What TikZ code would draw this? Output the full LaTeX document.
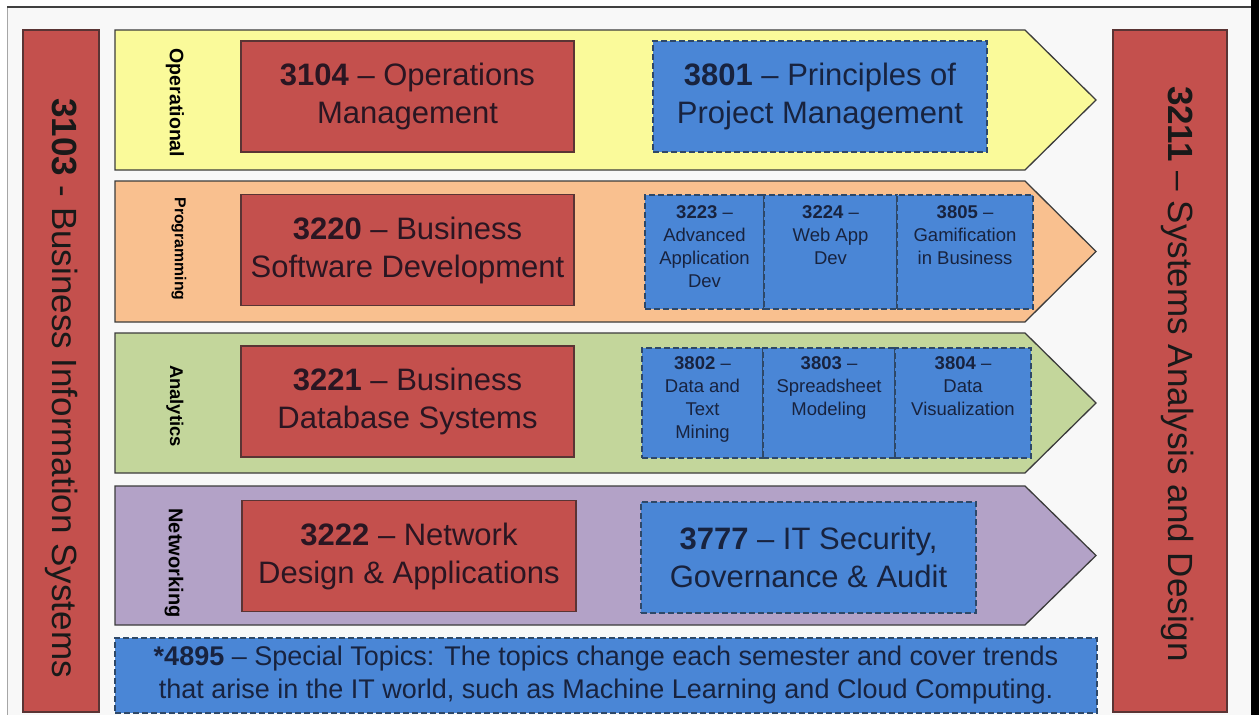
\documentclass[tikz,border=0pt]{standalone}
\usepackage{fontspec}
\setmainfont{Liberation Sans}
\definecolor{redc}{HTML}{C4504D}
\definecolor{reddark}{HTML}{5A3434}
\definecolor{redtext}{HTML}{2A1622}
\definecolor{bluec}{HTML}{4A86D6}
\definecolor{bluedark}{HTML}{2E4868}
\definecolor{bluetext}{HTML}{18233F}
\definecolor{yel}{HTML}{FAFA9A}
\definecolor{ora}{HTML}{F9C08F}
\definecolor{gre}{HTML}{C3D69B}
\definecolor{pur}{HTML}{B3A2C7}
\definecolor{arrline}{HTML}{3C3C3C}
\definecolor{bg}{HTML}{F8F8F8}
\tikzset{
  rowarrow/.style={draw=arrline, line width=1.3pt, line join=miter},
  redbox/.style={rectangle, fill=redc, draw=reddark, line width=1.3pt, inner sep=0pt,
     text=redtext, align=center},
  bluebox/.style={rectangle, fill=bluec, draw=bluedark, line width=1.3pt, inner sep=0pt,
     dash pattern=on 6pt off 3pt, text=bluetext, align=center},
  bigtxt/.style={font=\fontsize{31}{38}\selectfont},
  smalltxt/.style={font=\fontsize{18.5}{23}\selectfont, text=bluetext, align=center, inner sep=0pt, anchor=north},
  rowlabel/.style={rotate=-90, inner sep=0pt, text=black},
  sidebar/.style={rectangle, fill=redc, draw=reddark, line width=1.3pt, inner sep=0pt},
  sidetxt/.style={rotate=-90, inner sep=0pt, text=black!90, font=\fontsize{35}{40}\selectfont}
}
\begin{document}
\begin{tikzpicture}[x=1pt,y=-1pt]
\useasboundingbox (0,0) rectangle (1259,715);
% frame
\fill[white] (0,0) rectangle (1259,715);
\fill[bg] (7,7) rectangle (1251,715);
\draw[gray!70, line width=1pt] (7,715) -- (7,7);
\draw[black!75, line width=1.2pt] (7,7) -- (1251,7);
\fill[black] (1251,0) rectangle (1259,715);

% side bars
\node[sidebar, minimum width=76pt, minimum height=682pt] (leftbar) at (61,371) {};
\node[sidetxt] (lefttxt) at (62,388) {\textbf{3103} - Business Information Systems};
\node[sidebar, minimum width=114pt, minimum height=682pt] (rightbar) at (1170,371) {};
\node[sidetxt] (righttxt) at (1178,374) {\textbf{3211} -- Systems Analysis and Design};

% row arrows
\draw[rowarrow, fill=yel] (115,30) -- (1025,30) -- (1096,100) -- (1025,170) -- (115,170) -- cycle;
\draw[rowarrow, fill=ora] (115,181) -- (1025,181) -- (1096,251.5) -- (1025,322) -- (115,322) -- cycle;
\draw[rowarrow, fill=gre] (115,333) -- (1025,333) -- (1096,403) -- (1025,473) -- (115,473) -- cycle;
\draw[rowarrow, fill=pur] (115,486) -- (1025,486) -- (1096,555.5) -- (1025,625) -- (115,625) -- cycle;

% row labels
\node[rowlabel, font=\bfseries\fontsize{19.5}{22}\selectfont] (lab1) at (175,103) {Operational};
\node[rowlabel, font=\bfseries\fontsize{15.8}{18}\selectfont] (lab2) at (179,249) {Programming};
\node[rowlabel, font=\bfseries\fontsize{18.4}{21}\selectfont] (lab3) at (175,406) {Analytics};
\node[rowlabel, font=\bfseries\fontsize{20}{23}\selectfont] (lab4) at (174,563) {Networking};

% red boxes
\node[redbox, bigtxt, minimum width=333pt, minimum height=111pt] (c3104) at (407.5,96.5) {\textbf{3104} -- Operations\\Management};
\node[redbox, bigtxt, minimum width=333pt, minimum height=111pt] (c3220) at (407.5,250) {\textbf{3220} -- Business\\Software Development};
\node[redbox, bigtxt, minimum width=333pt, minimum height=111pt] (c3221) at (407.5,401.5) {\textbf{3221} -- Business\\Database Systems};
\node[redbox, bigtxt, minimum width=334pt, minimum height=111pt] (c3222) at (409,556) {\textbf{3222} -- Network\\Design \& Applications};

% blue boxes row 1 and 4
\node[bluebox, bigtxt, minimum width=334pt, minimum height=111pt] (c3801) at (820,96.5) {\textbf{3801} -- Principles of\\Project Management};
\node[bluebox, bigtxt, minimum width=335pt, minimum height=111pt] (c3777) at (808.5,557.5) {\textbf{3777} -- IT Security,\\Governance \& Audit};

% row 2 small boxes
\node[bluebox, minimum width=119pt, minimum height=114pt] (b3223) at (704.5,252) {};
\node[bluebox, minimum width=133pt, minimum height=114pt] (b3224) at (830.5,252) {};
\node[bluebox, minimum width=136pt, minimum height=114pt] (b3805) at (965,252) {};
\node[smalltxt] (t3223) at ([yshift=-11pt]b3223.north) {\textbf{3223} --\\Advanced\\Application\\Dev};
\node[smalltxt] (t3224) at ([yshift=-11pt]b3224.north) {\textbf{3224} --\\Web App\\Dev};
\node[smalltxt] (t3805) at ([yshift=-11pt]b3805.north) {\textbf{3805} --\\Gamification\\in Business};

% row 3 small boxes
\node[bluebox, minimum width=121pt, minimum height=110pt] (b3802) at (702.5,403) {};
\node[bluebox, minimum width=132pt, minimum height=110pt] (b3803) at (829,403) {};
\node[bluebox, minimum width=136pt, minimum height=110pt] (b3804) at (963,403) {};
\node[smalltxt] (t3802) at ([yshift=-9pt]b3802.north) {\textbf{3802} --\\Data and\\Text\\Mining};
\node[smalltxt] (t3803) at ([yshift=-9pt]b3803.north) {\textbf{3803} --\\Spreadsheet\\Modeling};
\node[smalltxt] (t3804) at ([yshift=-9pt]b3804.north) {\textbf{3804} --\\Data\\Visualization};

% bottom special topics
\node[bluebox, minimum width=982pt, minimum height=75pt, font=\fontsize{27}{33}\selectfont] (c4895) at (606,675.5) {\textbf{*4895} -- Special Topics: The topics change each semester and cover trends\\that arise in the IT world, such as Machine Learning and Cloud Computing.};
\end{tikzpicture}
\end{document}
